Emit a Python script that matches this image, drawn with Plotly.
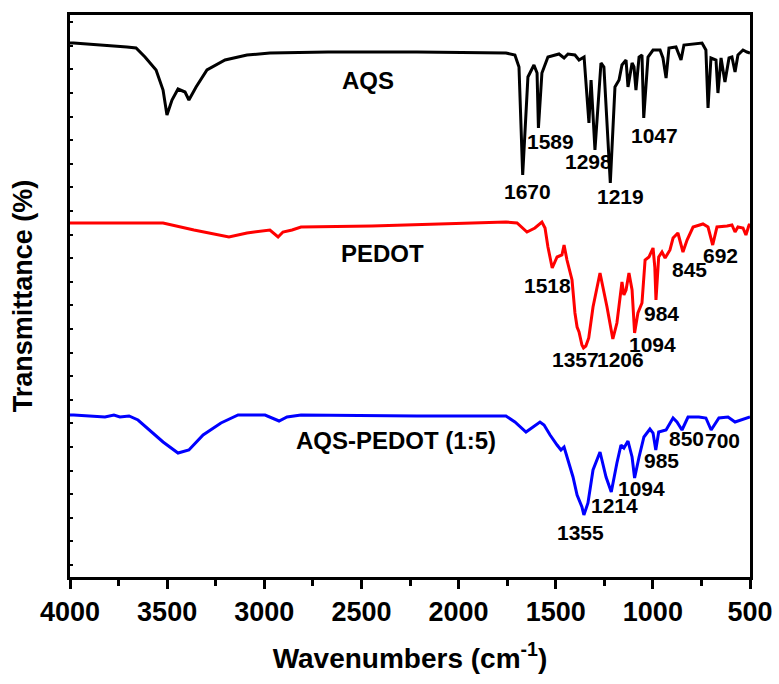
import plotly.graph_objects as go

# ---------------- data (wavenumber cm-1, offset transmittance a.u.) ----------------
aqs_wn = [4000, 3981, 3707, 3660, 3614, 3557, 3521, 3501, 3475, 3444, 3408, 3388, 3351, 3295, 3202, 3089,
          2971, 2672, 2214, 1756, 1710, 1689, 1670, 1643, 1612, 1596, 1589, 1571, 1540, 1483, 1457,
          1437, 1401, 1380, 1354, 1344, 1329, 1318, 1298, 1267, 1252, 1219, 1195, 1174, 1159, 1138,
          1128, 1107, 1097, 1087, 1071, 1056, 1047, 1025, 999, 963, 948, 932, 917, 881, 855, 840,
          793, 747, 727, 716, 701, 675, 665, 649, 629, 608, 593, 577, 562, 536, 516, 500]
aqs_t = [557, 557, 553, 552, 543, 530, 510, 485, 500, 511, 508, 500, 513, 530, 540, 545,
         547, 548, 548, 547, 545, 533, 425, 523, 535, 527, 472, 527, 543, 546, 542,
         546, 545, 540, 543, 520, 477, 520, 450, 537, 533, 417, 513, 520, 535, 540,
         513, 537, 533, 510, 543, 545, 482, 543, 550, 550, 542, 522, 552, 553, 540, 555,
         556, 557, 550, 492, 542, 540, 507, 542, 518, 542, 543, 528, 545, 550, 548, 547]

pedot_wn = [4000, 3981, 3820, 3521, 3362, 3182, 3089, 2971, 2929, 2904, 2857, 2811, 2446, 1988, 1756,
            1699, 1648, 1607, 1571, 1555, 1540, 1518, 1493, 1468, 1457, 1442, 1416, 1401, 1390,
            1380, 1365, 1357, 1345, 1330, 1308, 1272, 1236, 1206, 1185, 1159, 1149, 1138, 1123,
            1107, 1094, 1077, 1056, 1040, 1020, 999, 990, 984, 970, 953, 937, 912, 896, 871, 845,
            824, 793, 742, 716, 692, 670, 618, 593, 577, 562, 536, 521, 505, 500]
pedot_t = [377, 377, 377, 377, 370, 363, 367, 370, 363, 368, 370, 373, 374, 377, 378,
           377, 368, 372, 378, 372, 353, 332, 343, 345, 355, 340, 320, 287, 273,
           268, 255, 252, 254, 262, 293, 327, 293, 261, 277, 318, 305, 310, 327,
           310, 267, 287, 297, 340, 343, 352, 333, 300, 343, 348, 342, 350, 362, 367, 348,
           360, 373, 376, 373, 355, 373, 374, 375, 368, 373, 372, 365, 375, 376]

mix_wn = [4000, 3981, 3820, 3774, 3743, 3696, 3650, 3593, 3521, 3444, 3388, 3315, 3223, 3135, 2996,
          2924, 2883, 2811, 2214, 1756, 1710, 1653, 1622, 1581, 1560, 1529, 1493, 1473, 1457,
          1437, 1411, 1390, 1365, 1355, 1334, 1308, 1272, 1241, 1214, 1185, 1164, 1149, 1128,
          1107, 1094, 1071, 1046, 1015, 999, 985, 970, 932, 896, 876, 850, 819, 763, 727, 700,
          660, 613, 577, 546, 500]
mix_t = [185, 185, 183, 185, 183, 184, 180, 170, 158, 147, 150, 165, 177, 185, 185,
         179, 183, 185, 184, 184, 178, 168, 172, 178, 175, 165, 155, 150, 153,
         140, 123, 105, 93, 85, 97, 130, 148, 123, 108, 137, 155, 152, 159,
         143, 122, 143, 163, 171, 167, 150, 168, 170, 182, 178, 170, 183, 183, 182, 170,
         182, 183, 178, 180, 183]

series_names = ["AQS", "PEDOT", "AQS-PEDOT (1:5)"]
series_colors = ["#000000", "#ff0000", "#0000ff"]

# curve names: (text, wavenumber, t)
name_labels = [("AQS", 2468, 520), ("PEDOT", 2389, 347), ("AQS-PEDOT (1:5)", 2322, 160)]

# peak labels: (text, wavenumber, t)
peak_labels = [
    ("1670", 1643, 409), ("1589", 1529, 459), ("1298", 1329, 439), ("1219", 1169, 404), ("1047", 994, 465),
    ("1518", 1542, 315), ("1357", 1396, 241), ("1206", 1164, 241), ("1094", 1004, 256), ("984", 953, 287),
    ("845", 809, 331), ("692", 654, 345),
    ("850", 829, 162), ("700", 644, 160), ("985", 958, 140), ("1094", 1061, 112), ("1214", 1200, 95),
    ("1355", 1370, 68),
]

x_tickvals = [4000, 3500, 3000, 2500, 2000, 1500, 1000, 500]

FONT = "Liberation Sans, Arial, sans-serif"
YRANGE = [23, 585]

fig = go.Figure()
for wn, t, name, col in zip([aqs_wn, pedot_wn, mix_wn], [aqs_t, pedot_t, mix_t], series_names, series_colors):
    fig.add_trace(go.Scatter(x=wn, y=t, mode="lines", name=name,
                             line=dict(color=col, width=3), showlegend=False))

for txt, x, y in name_labels:
    fig.add_annotation(x=x, y=y, text=txt, showarrow=False,
                       font=dict(family=FONT, size=24, color="black", weight="bold"))
for txt, x, y in peak_labels:
    fig.add_annotation(x=x, y=y, text=txt, showarrow=False,
                       font=dict(family=FONT, size=21, color="black", weight="bold"))

fig.update_layout(
    width=779, height=684,
    margin=dict(l=70, r=29, t=15, b=107),
    paper_bgcolor="white", plot_bgcolor="white",
    font=dict(family=FONT, color="black"),
    xaxis=dict(range=[4000, 500], tickvals=x_tickvals, ticks="outside", ticklen=9, tickwidth=3,
               tickcolor="black", automargin=False,
               minor=dict(dtick=250, ticks="outside", ticklen=6, tickwidth=3, tickcolor="black"),
               showline=True, linewidth=3, linecolor="black", mirror=True, showgrid=False, zeroline=False,
               tickfont=dict(family=FONT, size=27, color="black", weight="bold"),
               title=dict(text="Wavenumbers (cm<sup>-1</sup>)", standoff=22,
                          font=dict(family=FONT, size=28, color="black", weight="bold"))),
    yaxis=dict(range=YRANGE, tick0=35, dtick=23.6, ticks="inside", ticklen=3, tickwidth=2,
               tickcolor="black", showticklabels=False, automargin=False,
               showline=True, linewidth=3, linecolor="black", mirror=True, showgrid=False, zeroline=False,
               title=dict(text="Transmittance (%)", standoff=27,
                          font=dict(family=FONT, size=27, color="black", weight="bold"))),
    yaxis2=dict(range=YRANGE, tick0=35, dtick=23.6, ticks="outside", ticklen=3, tickwidth=2,
                tickcolor="black", showticklabels=False, overlaying="y", side="right",
                showline=False, showgrid=False, zeroline=False, automargin=False),
)

fig.write_html("out.html", config={"displayModeBar": False},
               post_script="document.body.style.margin='0';document.body.style.padding='0';")
